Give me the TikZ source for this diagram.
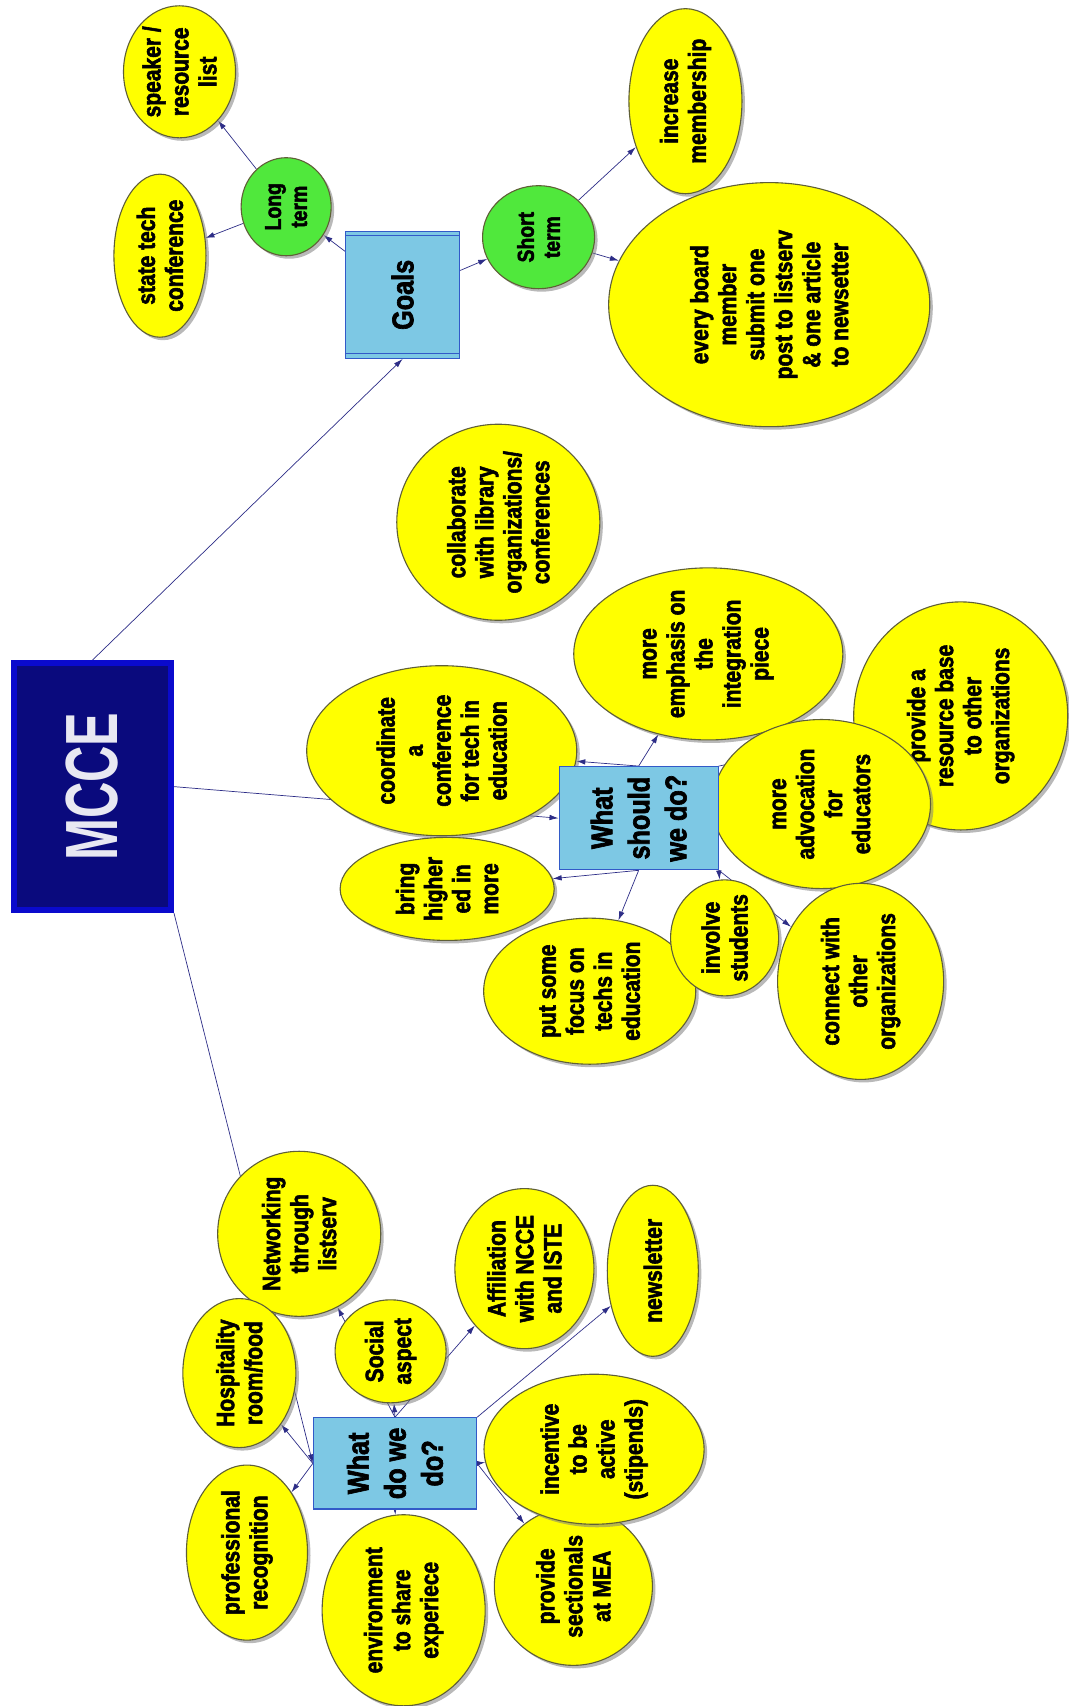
\documentclass[tikz,border=0pt]{standalone}
\usepackage{fontspec}
\newfontfamily\nf[FakeStretch=0.84,BoldFeatures={FakeBold=2.2}]{Liberation Sans}
\newfontfamily\mf[FakeStretch=0.68]{Liberation Sans}
\usetikzlibrary{shapes.geometric,shadows,arrows.meta,backgrounds}
\definecolor{yel}{RGB}{255,255,0}
\definecolor{bord}{RGB}{95,95,55}
\definecolor{greenf}{RGB}{80,232,60}
\definecolor{boxf}{RGB}{125,200,228}
\definecolor{boxb}{RGB}{50,90,200}
\definecolor{mcb}{RGB}{10,10,205}
\definecolor{mcf}{RGB}{10,10,125}
\definecolor{mct}{RGB}{232,232,242}
\definecolor{edgec}{RGB}{45,45,135}
\tikzset{
  ell/.style={ellipse, draw=bord, fill=yel, line width=1.1pt, rotate=90, inner sep=-5pt, align=center,
    font=\nf\bfseries\fontsize{25}{28}\selectfont,
    drop shadow={shadow xshift=3pt, shadow yshift=-3pt, fill=black!50, opacity=.55}},
  grn/.style={ell, fill=greenf, font=\nf\bfseries\fontsize{23}{26}\selectfont},
  qbox/.style={rectangle, draw=boxb, fill=boxf, line width=1.2pt, rotate=90, inner sep=0pt, align=center,
    font=\nf\bfseries\fontsize{30}{37}\selectfont},
  conn/.style={draw=edgec, line width=0.7pt, -{Latex[length=9pt,width=5.5pt]}},
}
\begin{document}
\begin{tikzpicture}[x=1.0876pt,y=-1.0876pt]
\useasboundingbox (0,0) rectangle (982,1568);
% MCCE
\node[rectangle, rotate=90, draw=mcb, line width=6pt, fill=mcf, minimum width=247pt, minimum height=157pt, text=mct,
  font=\mf\bfseries\fontsize{74}{80}\selectfont] (mcce) at (85,723) {MCCE};
% Goals group
\node[ell, minimum width=132pt, minimum height=112pt] (speaker) at (165,66) {speaker /\\resource\\list};
\node[ell, minimum width=163pt, minimum height=92pt] (state) at (147,235) {state tech\\conference};
\node[grn, minimum width=98pt, minimum height=90pt] (longt) at (263,190) {Long\\term};
\node[qbox, minimum width=127pt, minimum height=114pt] (goals) at (370,271) {Goals};
\draw[boxb, line width=1pt] ([yshift=-5pt]goals.north east) -- ([yshift=-5pt]goals.south east);
\draw[boxb, line width=1pt] ([yshift=5pt]goals.north west) -- ([yshift=5pt]goals.south west);
\node[grn, minimum width=103pt, minimum height=112pt] (shortt) at (495,218) {Short\\term};
\node[ell, minimum width=185pt, minimum height=113pt] (incr) at (630,93) {increase\\membership};
\node[ell, minimum width=244pt, minimum height=321pt] (every) at (707,280) {every board\\member\\submit one\\post to listserv\\\& one article\\to newsetter};
% What should we do group
\node[ell, minimum width=196pt, minimum height=203pt] (collab) at (458,480) {collaborate\\with library\\organizations/\\conferences};
\node[ell, minimum width=172pt, minimum height=269pt] (emph) at (651,601) {more\\emphasis on\\the\\integration\\piece};
\node[ell, minimum width=228pt, minimum height=214pt] (resbase) at (883,658) {provide a\\resource base\\to other\\organizations};
\node[ell, minimum width=170pt, minimum height=270pt] (coord) at (406,690) {coordinate\\a\\conference\\for tech in\\education};
\node[ell, minimum width=169pt, minimum height=218pt] (advoc) at (755,739) {more\\advocation\\for\\educators};
\node[ell, minimum width=103pt, minimum height=214pt] (bring) at (411,817) {bring\\higher\\ed in\\more};
\node[ell, minimum width=146pt, minimum height=212pt] (focus) at (542,911) {put some\\focus on\\techs in\\education};
\node[ell, minimum width=196pt, minimum height=166pt] (connect) at (791,902) {connect with\\other\\organizations};
\node[ell, minimum width=116pt, minimum height=108pt] (involve) at (666,862) {involve\\students};
\node[qbox, minimum width=103pt, minimum height=159pt] (ws) at (587,752) {What\\should\\we do?};
% What do we do group
\node[ell, minimum width=165pt, minimum height=163pt] (netw) at (275,1134) {Networking\\through\\listserv};
\node[ell, minimum width=149pt, minimum height=113pt] (hosp) at (220,1262) {Hospitality\\room/food};
\node[ell, minimum width=103pt, minimum height=111pt] (social) at (359,1242) {Social\\aspect};
\node[ell, minimum width=160pt, minimum height=139pt] (affil) at (482,1166) {Affiliation\\with NCCE\\and ISTE};
\node[ell, minimum width=171pt, minimum height=91pt] (newsl) at (600,1168) {newsletter};
\node[ell, minimum width=175pt, minimum height=121pt] (prof) at (227,1427) {professional\\recognition};
\node[ell, minimum width=191pt, minimum height=163pt] (envir) at (371,1480) {environment\\to share\\experiece};
\node[ell, minimum width=158pt, minimum height=158pt] (sect) at (527,1458) {provide\\sectionals\\at MEA};
\node[ell, minimum width=150pt, minimum height=220pt] (incent) at (546,1332) {incentive\\to be\\active\\(stipends)};
\node[qbox, minimum width=91pt, minimum height=163pt] (wd) at (363,1345) {What\\do we\\do?};
% background and connectors
\begin{scope}[on background layer]
\fill[white] (0,0) rectangle (982,1568);
\draw[conn] (mcce.east) -- (goals.west);
\draw[conn] (mcce.south) -- (ws.north);
\draw[conn] (mcce.south west) -- (wd.north);
\draw[conn] (goals) -- (longt);
\draw[conn] (goals) -- (shortt);
\draw[conn] (longt) -- (speaker);
\draw[conn] (longt) -- (state);
\draw[conn] (shortt) -- (incr);
\draw[conn] (shortt) -- (every);
\draw[conn] (ws.east) -- (coord);
\draw[conn] (ws.east) -- (emph);
\draw[conn] (ws.south east) -- (resbase);
\draw[conn] (ws.west) -- (bring);
\draw[conn] (ws.west) -- (focus);
\draw[conn] (ws.south) -- (advoc);
\draw[conn] (ws.south west) -- (involve);
\draw[conn] (ws.south west) -- (connect);
\draw[conn] (wd.east) -- (netw);
\draw[conn] (wd.east) -- (social);
\draw[conn] (wd.east) -- (affil);
\draw[conn] (wd.north) -- (hosp);
\draw[conn] (wd.north) -- (prof);
\draw[conn] (wd.south) -- (incent);
\draw[conn] (wd.south) -- (sect);
\draw[conn] (wd.south east) -- (newsl);
\draw[conn] (wd.west) -- (envir);
\end{scope}
\end{tikzpicture}
\end{document}
